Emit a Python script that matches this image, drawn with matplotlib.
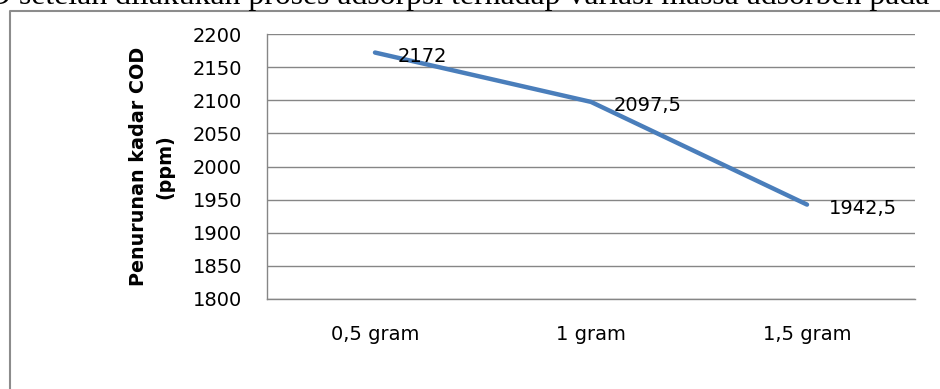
import matplotlib.pyplot as plt
from matplotlib.lines import Line2D

# COD reduction against adsorbent mass
massa = ['0,5 gram', '1 gram', '1,5 gram']
cod = [2172, 2097.5, 1942.5]
y_ticks = [1800, 1850, 1900, 1950, 2000, 2050, 2100, 2150, 2200]

W, H = 940, 389
fig = plt.figure(figsize=(W / 100, H / 100), dpi=100)

# caption line above the chart (partly outside the page area)
fig.text(-12 / W, 1 - 4 / H,
         'D setelah dilakukan proses adsorpsi terhadap variasi massa adsorben pada',
         family='Liberation Serif', fontsize=22.9, ha='left', va='baseline', color='black')

# chart frame
frame_color = '#8c8c8c'
fig.add_artist(Line2D([9.5 / W, 9.5 / W, 1.0], [0.0, 1 - 10.5 / H, 1 - 10.5 / H],
                      transform=fig.transFigure, color=frame_color, lw=1.5))

ax = fig.add_axes([267 / W, 1 - 299 / H, (915 - 267) / W, (299 - 34) / H])

x = list(range(len(massa)))
ax.plot(x, cod, color='#4A7EBB', lw=3.2, solid_capstyle='round', solid_joinstyle='round', zorder=3)

for xi, v in zip(x, cod):
    txt = f'{v:g}'.replace('.', ',')
    ax.annotate(txt, (xi, v), xytext=(16, -2.5), textcoords='offset points',
                ha='left', va='center', fontsize=14, color='black', zorder=4)

ax.set_xlim(-0.5, len(massa) - 0.5)
ax.set_ylim(1800, 2200)
ax.set_yticks(y_ticks)
ax.set_yticklabels([str(t) for t in y_ticks])
ax.set_xticks(x)
ax.set_xticklabels(massa)

grid_color = '#868686'
ax.yaxis.grid(True, color=grid_color, lw=1.0)
ax.set_axisbelow(True)
for side in ['top', 'right']:
    ax.spines[side].set_visible(False)
for side in ['left', 'bottom']:
    ax.spines[side].set_color(grid_color)
    ax.spines[side].set_linewidth(1.0)

ax.tick_params(axis='y', length=0, pad=18, labelsize=14)
ax.tick_params(axis='x', length=0, pad=19, labelsize=14)

ax.set_ylabel('Penurunan kadar COD\n(ppm)', fontsize=13.8, fontweight='bold',
              linespacing=1.45, labelpad=0)
ax.yaxis.set_label_coords((174 - 267) / (915 - 267), 0.5)

fig.savefig('out.png', dpi=100)
